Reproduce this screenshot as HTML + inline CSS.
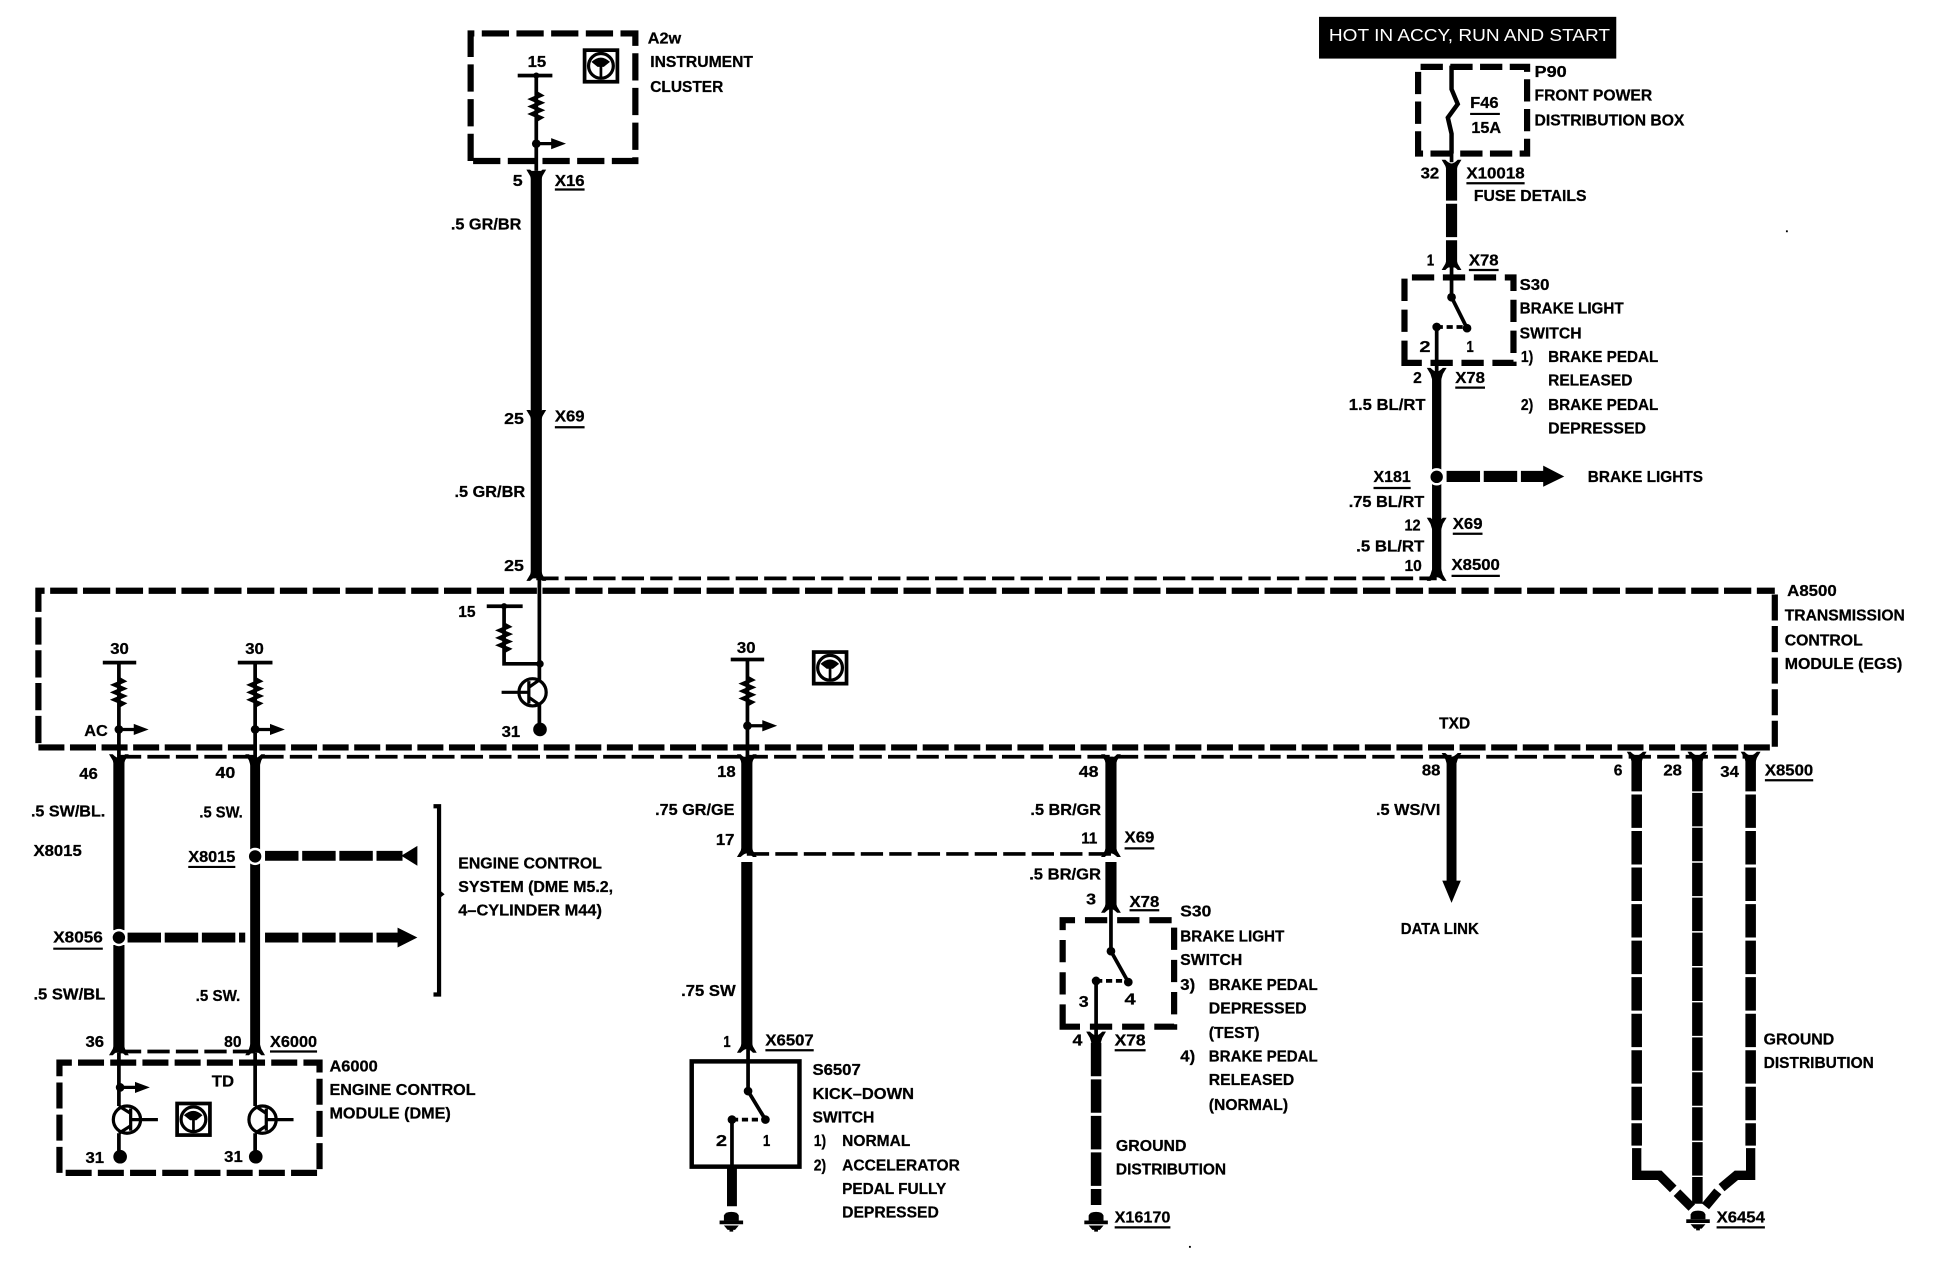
<!DOCTYPE html>
<html><head><meta charset="utf-8"><title>Wiring diagram</title>
<style>
html,body{margin:0;padding:0;background:#fff}
svg{display:block}
text{font-family:"Liberation Sans",sans-serif;font-weight:bold;font-size:13px;fill:#000;stroke:#000;stroke-width:.22}
.w{fill:none;stroke:#000}
</style></head><body>
<svg xmlns="http://www.w3.org/2000/svg" width="1942" height="1264" viewBox="0 0 1568 1020.6" preserveAspectRatio="none">
<defs>
<g id="c"><path d="M-8 -2 L-5 -2 Q-2 1 0 1 Q2 1 5 -2 L8 -2 L5 3 L3.5 8 L-3.5 8 L-5 3 Z" fill="#000"/></g>
<g id="r"><path class="w" stroke-width="3" d="M0 0 L3.5 2 L-3.5 5 L3.5 8 L-3.5 11 L3.5 14 L-3.5 17 L3.5 20 L0 22"/></g>
<g id="a"><circle r="3.5" fill="#000"/><path class="w" stroke-width="2.6" d="M0 0H14"/><path d="M12 -4.5L24 0L12 4.5Z" fill="#000"/></g>
<g id="i"><rect x="1.5" y="1.5" width="26.5" height="25.5" fill="#fff" stroke="#000" stroke-width="3"/><circle cx="14.7" cy="14.2" r="10" fill="none" stroke="#000" stroke-width="2.6"/><path d="M7 11Q14.7 4 22 11L17 15H12Z" fill="#000"/><path class="w" stroke-width="2.2" d="M14.7 14V24"/></g>
<g id="g"><path d="M-6 -1V-5Q-5 -8 0 -8Q5 -8 6 -5V-1Z" fill="#000"/><rect x="-9.5" y="-1" width="19" height="3" fill="#000"/><path d="M-6 3H6L3 6.5H1.5V8H-1.5V6.5H-3Z" fill="#000"/></g>
<g id="t"><circle r="11" fill="none" stroke="#000" stroke-width="2.6"/><path class="w" stroke-width="2.6" d="M3 -9V9M3 0H25"/></g>
</defs>

<!-- boxes -->
<g class="w" stroke-width="5" stroke-dasharray="22 4.5">
<path d="M31 600V477H1433"/>
<path d="M31 603.5H1433V477" stroke-dasharray="21 4.5"/>
<path d="M380 130V27H513V130H380Z" stroke-dasharray="22 6"/>
<path d="M1145 124V54H1233V124Z" stroke-dasharray="18 6"/>
<path d="M1134 293V224H1222V293Z" stroke-dasharray="18 7"/>
<path d="M858 829V743H948V829Z" stroke-dasharray="18 8"/>
<path d="M48 947V858H258V947Z" stroke-dasharray="21 5"/>
</g>
<rect x="558.5" y="857" width="87" height="85" fill="none" stroke="#000" stroke-width="3.6"/>
<g class="w" stroke-width="3" stroke-dasharray="18 5">
<path d="M433 467H1160"/>
<path d="M96 611H1417"/>
<path d="M96 849H207"/>
<path d="M603 689.5H897"/>
</g>

<!-- thick wires -->
<g class="w" stroke-width="9">
<path d="M433 138V467"/>
<path d="M1160 300V381M1160 389V466" stroke-width="7.5"/>
<path d="M96 612V751M96 763V850"/>
<path d="M206 612V686M206 697V850" stroke-width="8"/>
<path d="M603 611V689M603 696V846"/>
<path d="M897 611V689M897 696V733"/>
<path d="M591 942V974" stroke-width="8"/>
<path d="M1172 611V714" stroke-width="8"/>
</g>
<g class="w" stroke-width="8.5" stroke-dasharray="27 2.5">
<path d="M1172 135V216" stroke-width="9"/>
<path d="M885 842V973"/>
<path d="M1321.5 612V925"/>
<path d="M1370.5 612V972" stroke-dasharray="27 1.2"/>
<path d="M1413.5 612V925"/>
</g>
<!-- ground distribution tails -->
<g class="w" stroke-width="7.5" stroke-linejoin="miter">
<path d="M1321.5 927V949H1340L1351 960"/>
<path d="M1354 963L1366 975"/>
<path d="M1413.5 927V949H1402L1390 959"/>
<path d="M1387 962L1377 974"/>
</g>
<path d="M1164.5 711H1179.5L1172 729Z" fill="#000"/>

<!-- thin internal wires -->
<g class="w" stroke-width="3">
<path d="M433 61V138"/>
<path d="M1172 124V131"/>
<path d="M1172 53V72L1177 84L1169 95L1172 108V124" stroke-width="3.6"/>
<path d="M1172 216V240L1184.5 265"/>
<path d="M1160 264V300"/>
<path d="M435.5 467V549M435.5 569V590"/>
<path d="M407 490V536H436"/>
<path d="M96 535V612"/>
<path d="M206 535V612"/>
<path d="M603.5 533V611"/>
<path d="M897 611V612"/>
<path d="M96 850V893M96 915V934"/>
<path d="M206 850V893M206 915V934"/>
<path d="M604 846V881L618 904"/>
<path d="M591 904V942"/>
<path d="M897 733V768L911 793"/>
<path d="M885 792V840"/>
</g>
<g class="w" stroke-width="3" stroke-dasharray="5 3">
<path d="M1160 264H1184"/><path d="M591 904H618"/><path d="M885 792H911"/>
</g>
<g fill="#000">
<circle cx="1172" cy="240" r="3.5"/><circle cx="1184.5" cy="265" r="3.5"/><circle cx="1160" cy="264" r="3.5"/>
<circle cx="604" cy="881" r="3.5"/><circle cx="618" cy="904" r="3.5"/><circle cx="591" cy="904" r="3.5"/>
<circle cx="897" cy="768" r="3.5"/><circle cx="911" cy="793" r="3.5"/><circle cx="885" cy="792" r="3.5"/>
<circle cx="436" cy="536" r="3"/>
<circle cx="436" cy="589" r="5.5"/><circle cx="97" cy="934" r="5.5"/><circle cx="206.5" cy="934" r="5.5"/>
<rect x="393" y="488" width="29" height="3"/><rect x="83" y="533.5" width="27" height="3"/><rect x="192" y="533.5" width="28" height="3"/><rect x="590" y="531" width="27" height="3"/><rect x="418" y="59.5" width="28" height="3"/>
<circle cx="407" cy="489.5" r="2.5"/><circle cx="433" cy="61" r="2.5"/>
</g>

<!-- thick dashed arrows -->
<g class="w" stroke-width="8" stroke-dasharray="27 3">
<path d="M214 691H325"/>
<path d="M103 757H198"/>
<path d="M214 757H322"/>
<path d="M1168 384.7H1248" stroke-width="9"/>
</g>
<path d="M337 683V699L324 691Z" fill="#000"/>
<path d="M321 749L337 757L321 765Z" fill="#000"/>
<path d="M1246 376L1263 384.7L1246 393Z" fill="#000"/>
<g fill="#000" stroke="#fff" stroke-width="2">
<circle cx="206" cy="691.5" r="6"/><circle cx="96" cy="757" r="6"/><circle cx="1160" cy="385" r="6"/>
</g>

<!-- bracket -->
<path class="w" stroke-width="3.4" d="M350 651H354.5V803H350"/><path d="M354 718L359 722L354 726Z" fill="#000"/>

<!-- symbols -->
<use href="#c" x="433" y="139"/><use href="#c" x="433" y="333"/><use href="#c" x="433" y="467" transform="rotate(180 433 467)"/>
<use href="#c" x="1172" y="131"/><use href="#c" x="1172" y="216" transform="rotate(180 1172 216)"/><use href="#c" x="1160" y="299"/>
<use href="#c" x="1160" y="420"/><use href="#c" x="1160" y="467" transform="rotate(180 1160 467)"/>
<use href="#c" x="96" y="611"/><use href="#c" x="206" y="611"/><use href="#c" x="96" y="850" transform="rotate(180 96 850)"/><use href="#c" x="206" y="850" transform="rotate(180 206 850)"/>
<use href="#c" x="603" y="611"/><use href="#c" x="603" y="690" transform="rotate(180 603 690)"/><use href="#c" x="603" y="848" transform="rotate(180 603 848)"/>
<use href="#c" x="897" y="611"/><use href="#c" x="897" y="690" transform="rotate(180 897 690)"/><use href="#c" x="897" y="735" transform="rotate(180 897 735)"/><use href="#c" x="885" y="835"/>
<use href="#c" x="1172" y="610"/><use href="#c" x="1321.5" y="609"/><use href="#c" x="1370.5" y="609"/><use href="#c" x="1413.5" y="609"/>

<use href="#r" x="433" y="75"/><use href="#r" x="407" y="504"/><use href="#r" x="96" y="548"/><use href="#r" x="206" y="548"/><use href="#r" x="603.5" y="547"/>
<use href="#a" x="433" y="116"/><use href="#a" x="96" y="589"/><use href="#a" x="206" y="589"/><use href="#a" x="603.5" y="586"/><use href="#a" x="97" y="878"/>
<use href="#i" x="470.5" y="39"/><use href="#i" x="655.5" y="525"/><use href="#i" x="141.5" y="889.5"/>
<use href="#g" x="590.5" y="986.5"/><use href="#g" x="885" y="986.5"/><use href="#g" x="1371" y="985.5"/>

<use href="#t" x="102.5" y="904"/><use href="#t" x="212" y="904"/>
<g class="w" stroke-width="2.6"><path d="M96 893L105.5 899M96 915L105.5 909M206 893L215 899M206 915L215 909"/></g>
<use href="#t" transform="translate(430 559) scale(-1 1)"/>
<path class="w" stroke-width="2.6" d="M435.5 549L427 555M435.5 569L427 563"/>

<!-- HOT box -->
<rect x="1065" y="13.6" width="240" height="33.7" fill="#000"/>
<text x="1073" y="33" textLength="227" lengthAdjust="spacingAndGlyphs" style="fill:#fff;stroke:none;font-weight:normal;font-size:14px">HOT IN ACCY, RUN AND START</text>

<!-- underlines -->
<g class="w" stroke-width="1.8"><path d="M448 153H472M448 345H472M152 700H190M43 766H83M218 849H256M618 848H657M908 685H932M912 735H936M900 848H925M900 991H945M1425 630H1464M1386 991H1425M1184 148H1231M1186 218H1210M1175 313H1199M1109 394H1139M1173 431H1197M1172 465H1211M1187 92H1211"/></g>

<!-- labels -->
<g transform="translate(0 -0.8)">
<text x="523" y="36" textLength="27" lengthAdjust="spacingAndGlyphs">A2w</text>
<text x="525" y="55" textLength="83" lengthAdjust="spacingAndGlyphs">INSTRUMENT</text>
<text x="525" y="75" textLength="59" lengthAdjust="spacingAndGlyphs">CLUSTER</text>
<text x="426" y="55" textLength="15" lengthAdjust="spacingAndGlyphs">15</text>
<text x="414" y="151" textLength="8" lengthAdjust="spacingAndGlyphs">5</text>
<text x="448" y="151" textLength="24" lengthAdjust="spacingAndGlyphs">X16</text>
<text x="364" y="186" textLength="57" lengthAdjust="spacingAndGlyphs">.5 GR/BR</text>
<text x="407" y="343" textLength="16" lengthAdjust="spacingAndGlyphs">25</text>
<text x="448" y="341" textLength="24" lengthAdjust="spacingAndGlyphs">X69</text>
<text x="367" y="402" textLength="57" lengthAdjust="spacingAndGlyphs">.5 GR/BR</text>
<text x="407" y="462" textLength="16" lengthAdjust="spacingAndGlyphs">25</text>
<text x="370" y="499" textLength="14" lengthAdjust="spacingAndGlyphs">15</text>
<text x="405" y="596" textLength="15" lengthAdjust="spacingAndGlyphs">31</text>
<text x="89" y="529" textLength="15" lengthAdjust="spacingAndGlyphs">30</text>
<text x="198" y="529" textLength="15" lengthAdjust="spacingAndGlyphs">30</text>
<text x="68" y="595" textLength="19" lengthAdjust="spacingAndGlyphs">AC</text>
<text x="64" y="630" textLength="15" lengthAdjust="spacingAndGlyphs">46</text>
<text x="174" y="629" textLength="16" lengthAdjust="spacingAndGlyphs">40</text>
<text x="25" y="660" textLength="60" lengthAdjust="spacingAndGlyphs">.5 SW/BL.</text>
<text x="161" y="661" textLength="35" lengthAdjust="spacingAndGlyphs">.5 SW.</text>
<text x="27" y="692" textLength="39" lengthAdjust="spacingAndGlyphs">X8015</text>
<text x="152" y="697" textLength="38" lengthAdjust="spacingAndGlyphs">X8015</text>
<text x="43" y="762" textLength="40" lengthAdjust="spacingAndGlyphs">X8056</text>
<text x="27" y="808" textLength="58" lengthAdjust="spacingAndGlyphs">.5 SW/BL</text>
<text x="158" y="809" textLength="36" lengthAdjust="spacingAndGlyphs">.5 SW.</text>
<text x="69" y="846" textLength="15" lengthAdjust="spacingAndGlyphs">36</text>
<text x="181" y="846" textLength="14" lengthAdjust="spacingAndGlyphs">80</text>
<text x="218" y="846" textLength="38" lengthAdjust="spacingAndGlyphs">X6000</text>
<text x="266" y="866" textLength="39" lengthAdjust="spacingAndGlyphs">A6000</text>
<text x="266" y="885" textLength="118" lengthAdjust="spacingAndGlyphs">ENGINE CONTROL</text>
<text x="266" y="904" textLength="98" lengthAdjust="spacingAndGlyphs">MODULE (DME)</text>
<text x="171" y="878" textLength="18" lengthAdjust="spacingAndGlyphs">TD</text>
<text x="69" y="940" textLength="15" lengthAdjust="spacingAndGlyphs">31</text>
<text x="181" y="939" textLength="15" lengthAdjust="spacingAndGlyphs">31</text>
<text x="370" y="702" textLength="116" lengthAdjust="spacingAndGlyphs">ENGINE CONTROL</text>
<text x="370" y="721" textLength="125" lengthAdjust="spacingAndGlyphs">SYSTEM (DME M5.2,</text>
<text x="370" y="740" textLength="116" lengthAdjust="spacingAndGlyphs">4–CYLINDER M44)</text>
<text x="595" y="528" textLength="15" lengthAdjust="spacingAndGlyphs">30</text>
<text x="579" y="628" textLength="15" lengthAdjust="spacingAndGlyphs">18</text>
<text x="529" y="659" textLength="64" lengthAdjust="spacingAndGlyphs">.75 GR/GE</text>
<text x="578" y="683" textLength="15" lengthAdjust="spacingAndGlyphs">17</text>
<text x="550" y="805" textLength="44" lengthAdjust="spacingAndGlyphs">.75 SW</text>
<text x="584" y="846" textLength="6" lengthAdjust="spacingAndGlyphs">1</text>
<text x="618" y="845" textLength="39" lengthAdjust="spacingAndGlyphs">X6507</text>
<text x="656" y="869" textLength="39" lengthAdjust="spacingAndGlyphs">S6507</text>
<text x="656" y="888" textLength="82" lengthAdjust="spacingAndGlyphs">KICK–DOWN</text>
<text x="656" y="907" textLength="50" lengthAdjust="spacingAndGlyphs">SWITCH</text>
<text x="657" y="926" textLength="10" lengthAdjust="spacingAndGlyphs">1)</text>
<text x="680" y="926" textLength="55" lengthAdjust="spacingAndGlyphs">NORMAL</text>
<text x="657" y="946" textLength="10" lengthAdjust="spacingAndGlyphs">2)</text>
<text x="680" y="946" textLength="95" lengthAdjust="spacingAndGlyphs">ACCELERATOR</text>
<text x="680" y="965" textLength="84" lengthAdjust="spacingAndGlyphs">PEDAL FULLY</text>
<text x="680" y="984" textLength="78" lengthAdjust="spacingAndGlyphs">DEPRESSED</text>
<text x="578" y="926" textLength="9" lengthAdjust="spacingAndGlyphs">2</text>
<text x="616" y="926" textLength="6" lengthAdjust="spacingAndGlyphs">1</text>
<text x="871" y="628" textLength="16" lengthAdjust="spacingAndGlyphs">48</text>
<text x="832" y="659" textLength="57" lengthAdjust="spacingAndGlyphs">.5 BR/GR</text>
<text x="873" y="682" textLength="13" lengthAdjust="spacingAndGlyphs">11</text>
<text x="908" y="681" textLength="24" lengthAdjust="spacingAndGlyphs">X69</text>
<text x="831" y="711" textLength="58" lengthAdjust="spacingAndGlyphs">.5 BR/GR</text>
<text x="877" y="731" textLength="8" lengthAdjust="spacingAndGlyphs">3</text>
<text x="912" y="733" textLength="24" lengthAdjust="spacingAndGlyphs">X78</text>
<text x="953" y="741" textLength="25" lengthAdjust="spacingAndGlyphs">S30</text>
<text x="953" y="761" textLength="84" lengthAdjust="spacingAndGlyphs">BRAKE LIGHT</text>
<text x="953" y="780" textLength="50" lengthAdjust="spacingAndGlyphs">SWITCH</text>
<text x="953" y="800" textLength="12" lengthAdjust="spacingAndGlyphs">3)</text>
<text x="976" y="800" textLength="88" lengthAdjust="spacingAndGlyphs">BRAKE PEDAL</text>
<text x="976" y="819" textLength="79" lengthAdjust="spacingAndGlyphs">DEPRESSED</text>
<text x="976" y="839" textLength="41" lengthAdjust="spacingAndGlyphs">(TEST)</text>
<text x="953" y="858" textLength="12" lengthAdjust="spacingAndGlyphs">4)</text>
<text x="976" y="858" textLength="88" lengthAdjust="spacingAndGlyphs">BRAKE PEDAL</text>
<text x="976" y="877" textLength="69" lengthAdjust="spacingAndGlyphs">RELEASED</text>
<text x="976" y="897" textLength="64" lengthAdjust="spacingAndGlyphs">(NORMAL)</text>
<text x="871" y="814" textLength="8" lengthAdjust="spacingAndGlyphs">3</text>
<text x="908" y="812" textLength="9" lengthAdjust="spacingAndGlyphs">4</text>
<text x="866" y="845" textLength="8" lengthAdjust="spacingAndGlyphs">4</text>
<text x="900" y="845" textLength="25" lengthAdjust="spacingAndGlyphs">X78</text>
<text x="901" y="930" textLength="57" lengthAdjust="spacingAndGlyphs">GROUND</text>
<text x="901" y="949" textLength="89" lengthAdjust="spacingAndGlyphs">DISTRIBUTION</text>
<text x="900" y="988" textLength="45" lengthAdjust="spacingAndGlyphs">X16170</text>
<text x="1162" y="589" textLength="25" lengthAdjust="spacingAndGlyphs">TXD</text>
<text x="1148" y="627" textLength="15" lengthAdjust="spacingAndGlyphs">88</text>
<text x="1111" y="659" textLength="52" lengthAdjust="spacingAndGlyphs">.5 WS/VI</text>
<text x="1131" y="755" textLength="63" lengthAdjust="spacingAndGlyphs">DATA LINK</text>
<text x="1303" y="627" textLength="7" lengthAdjust="spacingAndGlyphs">6</text>
<text x="1343" y="627" textLength="15" lengthAdjust="spacingAndGlyphs">28</text>
<text x="1389" y="628" textLength="15" lengthAdjust="spacingAndGlyphs">34</text>
<text x="1425" y="627" textLength="39" lengthAdjust="spacingAndGlyphs">X8500</text>
<text x="1424" y="844" textLength="57" lengthAdjust="spacingAndGlyphs">GROUND</text>
<text x="1424" y="863" textLength="89" lengthAdjust="spacingAndGlyphs">DISTRIBUTION</text>
<text x="1386" y="988" textLength="39" lengthAdjust="spacingAndGlyphs">X6454</text>
<text x="1443" y="482" textLength="40" lengthAdjust="spacingAndGlyphs">A8500</text>
<text x="1441" y="502" textLength="97" lengthAdjust="spacingAndGlyphs">TRANSMISSION</text>
<text x="1441" y="522" textLength="63" lengthAdjust="spacingAndGlyphs">CONTROL</text>
<text x="1441" y="541" textLength="95" lengthAdjust="spacingAndGlyphs">MODULE (EGS)</text>
<text x="1239" y="63" textLength="26" lengthAdjust="spacingAndGlyphs">P90</text>
<text x="1239" y="82" textLength="95" lengthAdjust="spacingAndGlyphs">FRONT POWER</text>
<text x="1239" y="102" textLength="121" lengthAdjust="spacingAndGlyphs">DISTRIBUTION BOX</text>
<text x="1187" y="88" textLength="23" lengthAdjust="spacingAndGlyphs">F46</text>
<text x="1188" y="108" textLength="24" lengthAdjust="spacingAndGlyphs">15A</text>
<text x="1147" y="145" textLength="15" lengthAdjust="spacingAndGlyphs">32</text>
<text x="1184" y="145" textLength="47" lengthAdjust="spacingAndGlyphs">X10018</text>
<text x="1190" y="163" textLength="91" lengthAdjust="spacingAndGlyphs">FUSE DETAILS</text>
<text x="1152" y="215" textLength="6" lengthAdjust="spacingAndGlyphs">1</text>
<text x="1186" y="215" textLength="24" lengthAdjust="spacingAndGlyphs">X78</text>
<text x="1227" y="235" textLength="24" lengthAdjust="spacingAndGlyphs">S30</text>
<text x="1227" y="254" textLength="84" lengthAdjust="spacingAndGlyphs">BRAKE LIGHT</text>
<text x="1227" y="274" textLength="50" lengthAdjust="spacingAndGlyphs">SWITCH</text>
<text x="1228" y="293" textLength="10" lengthAdjust="spacingAndGlyphs">1)</text>
<text x="1250" y="293" textLength="89" lengthAdjust="spacingAndGlyphs">BRAKE PEDAL</text>
<text x="1250" y="312" textLength="68" lengthAdjust="spacingAndGlyphs">RELEASED</text>
<text x="1228" y="332" textLength="10" lengthAdjust="spacingAndGlyphs">2)</text>
<text x="1250" y="332" textLength="89" lengthAdjust="spacingAndGlyphs">BRAKE PEDAL</text>
<text x="1250" y="351" textLength="79" lengthAdjust="spacingAndGlyphs">DEPRESSED</text>
<text x="1146" y="285" textLength="9" lengthAdjust="spacingAndGlyphs">2</text>
<text x="1184" y="285" textLength="6" lengthAdjust="spacingAndGlyphs">1</text>
<text x="1141" y="310" textLength="7" lengthAdjust="spacingAndGlyphs">2</text>
<text x="1175" y="310" textLength="24" lengthAdjust="spacingAndGlyphs">X78</text>
<text x="1089" y="332" textLength="62" lengthAdjust="spacingAndGlyphs">1.5 BL/RT</text>
<text x="1109" y="390" textLength="30" lengthAdjust="spacingAndGlyphs">X181</text>
<text x="1089" y="410" textLength="61" lengthAdjust="spacingAndGlyphs">.75 BL/RT</text>
<text x="1134" y="429" textLength="13" lengthAdjust="spacingAndGlyphs">12</text>
<text x="1173" y="428" textLength="24" lengthAdjust="spacingAndGlyphs">X69</text>
<text x="1095" y="446" textLength="55" lengthAdjust="spacingAndGlyphs">.5 BL/RT</text>
<text x="1134" y="462" textLength="14" lengthAdjust="spacingAndGlyphs">10</text>
<text x="1172" y="461" textLength="39" lengthAdjust="spacingAndGlyphs">X8500</text>
<text x="1282" y="390" textLength="93" lengthAdjust="spacingAndGlyphs">BRAKE LIGHTS</text>
</g>
<rect x="1442" y="186" width="1.5" height="1.5" fill="#000"/><rect x="960" y="1006" width="1.5" height="1.5" fill="#000"/>
</svg>
</body></html>
